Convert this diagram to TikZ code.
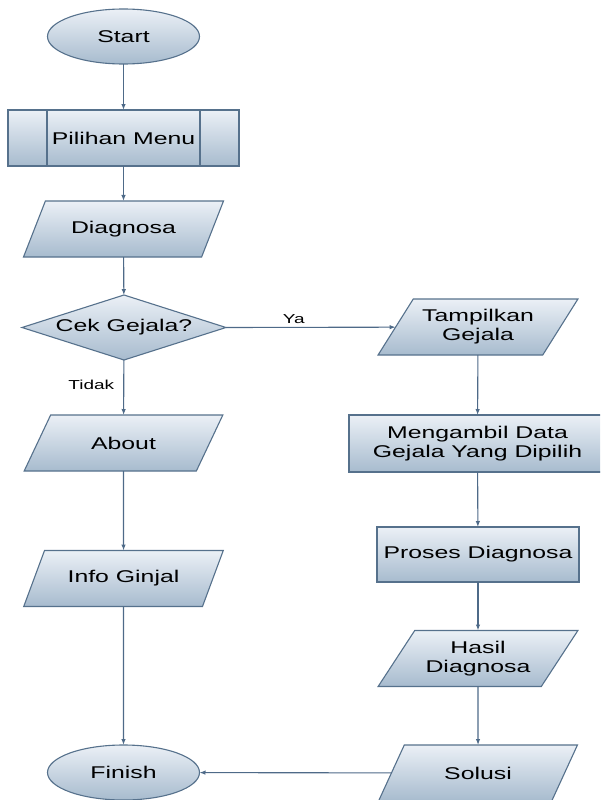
\documentclass[tikz,border=0pt]{standalone}
\usepackage{fontspec}
\setmainfont{Liberation Sans}[FakeStretch=1.46]
\usetikzlibrary{shapes.geometric,arrows.meta}
\definecolor{edge}{HTML}{56718C}
\definecolor{wire}{HTML}{4E6A88}
\definecolor{filltop}{HTML}{EBF0F6}
\definecolor{fillbot}{HTML}{A7BBCE}
\tikzset{
  base/.style={draw=edge, line width=1.1pt, top color=filltop, bottom color=fillbot,
    inner sep=1pt, outer sep=0pt, align=center, text=black,
    font=\fontsize{17}{19}\selectfont},
  terminal/.style={base, ellipse, minimum width=152pt, minimum height=55pt},
  iobox/.style={base, trapezium, trapezium left angle=50, trapezium right angle=130,
    trapezium stretches=true, minimum width=200pt, minimum height=56pt},
  procbox/.style={base, rectangle},
  decision/.style={base, diamond, aspect=3.1, minimum width=204pt, minimum height=65pt},
  flow/.style={draw=wire, line width=1.1pt, -{Latex[length=6pt,width=4.5pt]}},
  lbl/.style={font=\fontsize{13}{15}\selectfont, text=black, inner sep=0pt}
}
\begin{document}
\begin{tikzpicture}[x=1pt,y=-1pt]
\useasboundingbox (0,0) rectangle (600,800);
\clip (0,0) rectangle (600,800);

% left column
\node[terminal] (start) at (123.5,36.5) {Start};
\node[procbox, minimum width=231pt, minimum height=56pt] (menu) at (123.5,138) {Pilihan Menu};
\draw[edge, line width=1.1pt] ([xshift=39pt]menu.north west) -- ([xshift=39pt]menu.south west);
\draw[edge, line width=1.1pt] ([xshift=-39pt]menu.north east) -- ([xshift=-39pt]menu.south east);
\node[iobox] (diag) at (123.5,229) {Diagnosa};
\node[decision] (cek) at (124,327.5) {Cek Gejala?};
\node[iobox] (about) at (123.5,443) {About};
\node[iobox] (info) at (123.5,578.5) {Info Ginjal};
\node[terminal] (finish) at (123.5,772.5) {Finish};

% right column
\node[iobox] (tamp) at (478,327) {Tampilkan\\Gejala};
\node[procbox, minimum width=257pt, minimum height=57pt] (meng) at (477.5,443.5) {Mengambil Data\\Gejala Yang Dipilih};
\node[procbox, minimum width=202pt, minimum height=55pt] (proses) at (478,554.5) {Proses Diagnosa};
\node[iobox] (hasil) at (478,658.5) {Hasil\\Diagnosa};
\node[iobox] (solusi) at (478,773) {Solusi};

% connectors
\draw[flow] (start) -- (menu);
\draw[flow] (menu) -- (diag);
\draw[flow] (diag) -- (cek);
\draw[flow] (cek) -- node[lbl, pos=0.45, left=9pt] {Tidak} (about);
\draw[flow] (cek.east) -- node[lbl, pos=0.4, above=3pt] {Ya} (tamp);
\draw[flow] (about) -- (info);
\draw[flow] (info) -- (finish);
\draw[flow] (tamp) -- (meng);
\draw[flow] (meng) -- (proses);
\draw[flow] (proses) -- (hasil);
\draw[flow] (hasil) -- (solusi);
\draw[flow] (solusi) -- (finish);
\end{tikzpicture}
\end{document}
